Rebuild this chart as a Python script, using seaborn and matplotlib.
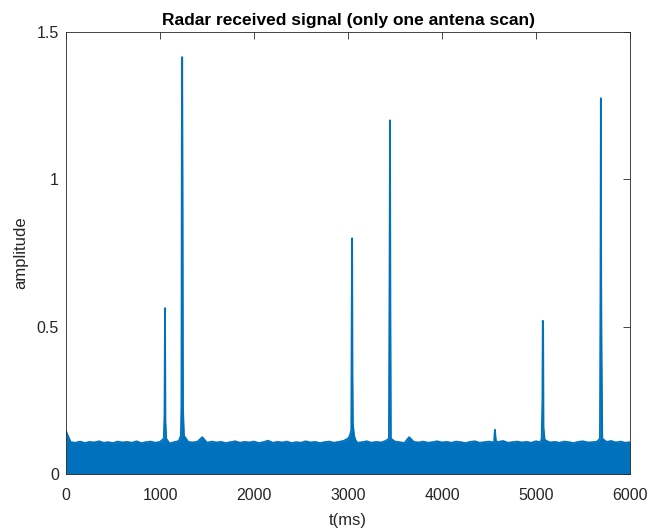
import numpy as np
import pandas as pd
import matplotlib
matplotlib.use("Agg")
import matplotlib.pyplot as plt
import seaborn as sns

# ---- data ----
# upper envelope of the noise floor, sampled every 50 ms (0..6000)
noise_t = list(range(0, 6001, 50))
noise_top = [0.145, 0.108, 0.106, 0.110, 0.105, 0.109, 0.107, 0.111, 0.106, 0.108,
             0.105, 0.110, 0.107, 0.109, 0.106, 0.111, 0.105, 0.108, 0.110, 0.106,
             0.109, 0.107, 0.104, 0.108, 0.112, 0.106, 0.109, 0.107, 0.110, 0.125,
             0.106, 0.110, 0.107, 0.109, 0.105, 0.108, 0.111, 0.106, 0.109, 0.107,
             0.110, 0.105, 0.108, 0.113, 0.106, 0.109, 0.107, 0.110, 0.105, 0.108,
             0.106, 0.111, 0.107, 0.109, 0.105, 0.108, 0.110, 0.106, 0.109, 0.112,
             0.107, 0.110, 0.106, 0.108, 0.111, 0.106, 0.109, 0.107, 0.112, 0.106,
             0.110, 0.108, 0.105, 0.125, 0.109, 0.107, 0.110, 0.106, 0.108, 0.111,
             0.107, 0.109, 0.106, 0.110, 0.108, 0.105, 0.109, 0.111, 0.106, 0.108,
             0.110, 0.107, 0.109, 0.112, 0.106, 0.108, 0.110, 0.107, 0.109, 0.106,
             0.111, 0.108, 0.114, 0.107, 0.109, 0.106, 0.110, 0.108, 0.105, 0.109,
             0.111, 0.107, 0.108, 0.110, 0.106, 0.109, 0.112, 0.107, 0.110, 0.106,
             0.108]

# echo samples (time in ms, amplitude)
echo_t = [1040, 1048, 1053, 1058, 1066,
          1222, 1228, 1232, 1236, 1240, 1245, 1255,
          3000, 3020, 3035, 3040, 3044, 3048, 3052, 3065, 3080,
          3435, 3442, 3447, 3451, 3456,
          4555, 4560, 4564, 4568, 4575,
          5060, 5068, 5072, 5076, 5080, 5090,
          5680, 5686, 5690, 5694, 5698, 5705]
echo_amp = [0.12, 0.20, 0.563, 0.18, 0.12,
            0.13, 0.23, 1.13, 1.415, 1.02, 0.22, 0.13,
            0.12, 0.13, 0.15, 0.59, 0.80, 0.34, 0.17, 0.13, 0.115,
            0.12, 0.68, 1.20, 0.60, 0.12,
            0.11, 0.14, 0.15, 0.13, 0.11,
            0.12, 0.25, 0.52, 0.50, 0.16, 0.12,
            0.12, 0.63, 1.275, 0.63, 0.40, 0.12]

x_ticks = [0, 1000, 2000, 3000, 4000, 5000, 6000]
y_ticks = [0, 0.5, 1, 1.5]
y_tick_labels = ["0", "0.5", "1", "1.5"]

# ---- assemble signal envelope ----
noise = pd.DataFrame({"t": noise_t, "amp": noise_top})
echo = pd.DataFrame({"t": echo_t, "amp": echo_amp})
windows = [(1040, 1066), (1222, 1255), (3000, 3080), (3435, 3456),
           (4555, 4575), (5060, 5090), (5680, 5705)]
mask = np.ones(len(noise), bool)
for a, b in windows:
    mask &= ~((noise["t"] >= a) & (noise["t"] <= b))
sig = pd.concat([noise[mask], echo]).sort_values("t").reset_index(drop=True)

color = "#0072BD"
sns.set_theme(style="white")
plt.rcParams["font.family"] = ["Liberation Sans", "DejaVu Sans"]

fig = plt.figure(figsize=(6.49, 5.28), dpi=100)
ax = fig.add_axes([66 / 649, 54 / 528, (630 - 66) / 649, (474 - 32) / 528])

ax.fill_between(sig["t"], 0, sig["amp"], color=color, linewidth=0)
sns.lineplot(data=sig, x="t", y="amp", ax=ax, color=color, linewidth=1.3,
             estimator=None, sort=True)

ax.set_xlim(0, 6000)
ax.set_ylim(0, 1.5)
ax.set_xticks(x_ticks)
ax.set_xticklabels([str(v) for v in x_ticks])
ax.set_yticks(y_ticks)
ax.set_yticklabels(y_tick_labels)
ax.tick_params(direction="in", length=5, width=0.6, colors="#262626",
               labelsize=11.5, top=True, right=True, labelcolor="#262626")
ax.tick_params(axis="x", pad=10)
ax.tick_params(axis="y", pad=5)
for s in ax.spines.values():
    s.set_color("#262626")
    s.set_linewidth(0.6)
ax.set_xlabel("t(ms)", fontsize=12, color="#262626", labelpad=7)
ax.set_ylabel("amplitude", fontsize=12, color="#262626", labelpad=6)
ax.set_title("Radar received signal (only one antena scan)", fontsize=12.5,
             fontweight="bold", color="black", pad=5)
ax.grid(False)

fig.savefig("out.png", dpi=100)
